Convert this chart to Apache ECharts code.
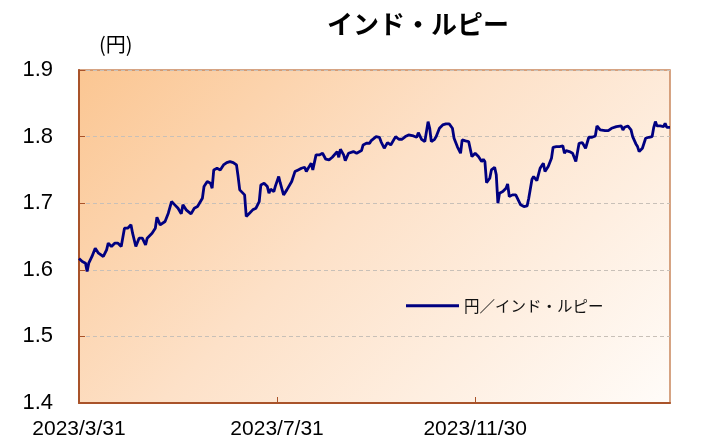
<!DOCTYPE html>
<html><head><meta charset="utf-8">
<script src="https://cdn.jsdelivr.net/npm/echarts@6/dist/echarts.min.js"></script>
<style>html,body{margin:0;padding:0;background:#fff}#c{width:726px;height:441px}</style>
</head><body><div id="c"></div>
<script>
var titleText = 'インド・ルピー';
var unitText = '(円)';
var seriesName = '円／インド・ルピー';
var xTickDates = ['2023-03-31', '2023-07-31', '2023-11-30'];
var yTicks = [1.4, 1.5, 1.6, 1.7, 1.8, 1.9];

var dates = [
'2023-03-31','2023-04-02','2023-04-04','2023-04-05','2023-04-06','2023-04-08','2023-04-10','2023-04-12','2023-04-15','2023-04-17','2023-04-18','2023-04-20','2023-04-22','2023-04-24','2023-04-26','2023-04-28','2023-04-30',
'2023-05-02','2023-05-03','2023-05-05','2023-05-07','2023-05-09','2023-05-11','2023-05-12','2023-05-15','2023-05-17','2023-05-18','2023-05-20','2023-05-23','2023-05-25','2023-05-27','2023-05-29','2023-05-31',
'2023-06-02','2023-06-03','2023-06-05','2023-06-08','2023-06-10','2023-06-12','2023-06-13','2023-06-15','2023-06-16','2023-06-18','2023-06-20','2023-06-21','2023-06-22','2023-06-24','2023-06-26','2023-06-28','2023-06-30',
'2023-07-02','2023-07-04','2023-07-06','2023-07-07','2023-07-08','2023-07-09','2023-07-11','2023-07-12','2023-07-14','2023-07-16','2023-07-18','2023-07-20','2023-07-21','2023-07-23','2023-07-25','2023-07-26','2023-07-27','2023-07-29','2023-07-30',
'2023-08-01','2023-08-02','2023-08-04','2023-08-06','2023-08-09','2023-08-11','2023-08-13','2023-08-15','2023-08-17','2023-08-18','2023-08-20','2023-08-21','2023-08-22','2023-08-24','2023-08-26','2023-08-28','2023-08-30',
'2023-09-01','2023-09-03','2023-09-04','2023-09-06','2023-09-07','2023-09-08','2023-09-10','2023-09-11','2023-09-13','2023-09-16','2023-09-18','2023-09-19','2023-09-21','2023-09-22','2023-09-24','2023-09-26','2023-09-27','2023-09-30',
'2023-10-02','2023-10-03','2023-10-05','2023-10-07','2023-10-09','2023-10-10','2023-10-12','2023-10-14','2023-10-16','2023-10-18','2023-10-20','2023-10-23','2023-10-25','2023-10-26','2023-10-28','2023-10-30','2023-10-31',
'2023-11-01','2023-11-02','2023-11-03','2023-11-05','2023-11-06','2023-11-08','2023-11-10','2023-11-12','2023-11-14','2023-11-16','2023-11-17','2023-11-19','2023-11-21','2023-11-22','2023-11-24','2023-11-26','2023-11-27','2023-11-28','2023-11-30',
'2023-12-02','2023-12-04','2023-12-05','2023-12-06','2023-12-07','2023-12-09','2023-12-10','2023-12-12','2023-12-13','2023-12-14','2023-12-15','2023-12-17','2023-12-19','2023-12-20','2023-12-21','2023-12-23','2023-12-25','2023-12-26','2023-12-28','2023-12-29','2023-12-30',
'2024-01-01','2024-01-02','2024-01-04','2024-01-05','2024-01-07','2024-01-09','2024-01-11','2024-01-12','2024-01-14','2024-01-16','2024-01-17','2024-01-19','2024-01-21','2024-01-23','2024-01-24','2024-01-25','2024-01-27','2024-01-29','2024-01-30','2024-01-31',
'2024-02-02','2024-02-04','2024-02-05','2024-02-06','2024-02-08','2024-02-10','2024-02-12','2024-02-13','2024-02-15','2024-02-18','2024-02-20','2024-02-21','2024-02-22','2024-02-23','2024-02-25','2024-02-26','2024-02-28','2024-02-29',
'2024-03-01','2024-03-03','2024-03-05','2024-03-06','2024-03-08','2024-03-09','2024-03-10','2024-03-12','2024-03-13','2024-03-14','2024-03-16','2024-03-18','2024-03-19','2024-03-20','2024-03-21','2024-03-23','2024-03-25','2024-03-26','2024-03-27','2024-03-29'
];

var values = [
1.617,1.6125,1.61,1.5975,1.61,1.62,1.6325,1.625,1.62,1.63,1.64,1.635,1.64,1.64,1.635,1.6625,1.6625,
1.6675,1.655,1.635,1.6475,1.6475,1.6375,1.6475,1.655,1.6625,1.679,1.6675,1.6725,1.685,1.7025,1.6975,1.6925,
1.684,1.6975,1.69,1.684,1.6925,1.695,1.6975,1.7075,1.725,1.7325,1.73,1.7225,1.75,1.7525,1.75,1.7575,1.761,
1.7625,1.761,1.7575,1.74,1.72,1.7175,1.7125,1.68,1.685,1.69,1.6925,1.7025,1.7275,1.73,1.725,1.715,1.721,1.7175,1.726,
1.74,1.73,1.7125,1.72,1.7325,1.7475,1.75,1.7525,1.754,1.7475,1.756,1.76,1.75,1.7725,1.7725,1.775,1.766,
1.765,1.769,1.77,1.7775,1.769,1.781,1.7725,1.764,1.775,1.7775,1.775,1.776,1.779,1.7875,1.79,1.79,1.794,1.8,
1.799,1.7925,1.7825,1.791,1.7875,1.79,1.8,1.796,1.796,1.8,1.8025,1.801,1.799,1.806,1.796,1.7925,1.79,
1.8225,1.8125,1.7925,1.796,1.8,1.8125,1.8175,1.819,1.819,1.8125,1.7975,1.785,1.775,1.795,1.7935,1.7925,1.7935,1.77,1.775,
1.77,1.7625,1.766,1.7625,1.731,1.7375,1.75,1.754,1.7425,1.7,1.715,1.7175,1.7225,1.729,1.71,1.7125,1.7125,1.711,1.6975,1.7,1.695,
1.696,1.7075,1.736,1.74,1.734,1.7525,1.76,1.7475,1.755,1.7675,1.784,1.785,1.785,1.786,1.775,1.779,1.7775,1.775,1.7725,1.7625,
1.79,1.791,1.79,1.7825,1.799,1.799,1.801,1.816,1.81,1.809,1.809,1.806,1.8125,1.815,1.815,1.8175,1.816,1.81,
1.814,1.816,1.81,1.8,1.789,1.785,1.7775,1.7825,1.79,1.7975,1.799,1.8,1.814,1.8225,1.816,1.816,1.815,1.82,1.814,1.814
];

function ts(s) { var p = s.split('-'); return Date.UTC(+p[0], +p[1] - 1, +p[2]); }
var seriesData = dates.map(function (d, i) { return [ts(d), values[i]]; });
var tickTs = xTickDates.map(ts);

var chart = echarts.init(document.getElementById('c'), null, { renderer: 'canvas' });
var numFont = '"Liberation Sans", Arial, sans-serif';
var jpFont = '"Noto Sans CJK JP", sans-serif';
chart.setOption({
  animation: false,
  title: {
    text: titleText, left: 413, top: 6, textAlign: 'center',
    textStyle: { fontFamily: jpFont, fontSize: 26, fontWeight: 'bold', color: '#000' }
  },
  legend: {
    data: [seriesName], left: 401, top: 293, icon: 'rect', itemWidth: 53, itemHeight: 3,
    itemGap: 5,
    textStyle: { fontFamily: jpFont, fontSize: 15.5, color: '#111' }
  },
  graphic: [{
    type: 'text', left: 99, top: 34,
    style: { text: unitText, fontFamily: jpFont, fontSize: 20, fill: '#000' }
  }],
  grid: {
    left: 79, right: 56, top: 70, bottom: 38, show: true,
    backgroundColor: new echarts.graphic.LinearGradient(0, 0, 0.78, 1.39, [
      { offset: 0, color: '#fbc692' },
      { offset: 0.45, color: '#fde1c8' },
      { offset: 1, color: '#fffcf9' }
    ]),
    borderColor: '#c9875c', borderWidth: 1.5
  },
  xAxis: {
    type: 'value', min: ts('2023-03-31'), max: ts('2024-03-29'),
    axisLine: { show: true, lineStyle: { color: '#a9532a', width: 2 } },
    axisTick: { show: true, inside: true, length: 6, customValues: tickTs, lineStyle: { color: '#a9532a', width: 1 } },
    axisLabel: {
      show: true, customValues: tickTs, margin: 16,
      fontFamily: numFont, fontSize: 21, color: '#000',
      formatter: function (v) { var d = new Date(v); return d.getUTCFullYear() + '/' + (d.getUTCMonth() + 1) + '/' + d.getUTCDate(); }
    },
    splitLine: { show: false }
  },
  yAxis: {
    type: 'value', min: yTicks[0], max: yTicks[yTicks.length - 1], interval: 0.1,
    axisLine: { show: true, lineStyle: { color: '#a9532a', width: 2 } },
    axisTick: { show: true, inside: true, length: 6, lineStyle: { color: '#a9532a', width: 1 } },
    axisLabel: { margin: 26, fontFamily: numFont, fontSize: 22, color: '#000', formatter: function (v) { return v.toFixed(1); } },
    splitLine: { show: true, lineStyle: { color: '#c8c0b8', type: [4, 3], width: 1 } }
  },
  series: [{
    name: seriesName, type: 'line', data: seriesData, showSymbol: false, symbol: 'none',
    lineStyle: { color: '#000080', width: 2.8 }, itemStyle: { color: '#000080' }
  }]
});
</script></body></html>
